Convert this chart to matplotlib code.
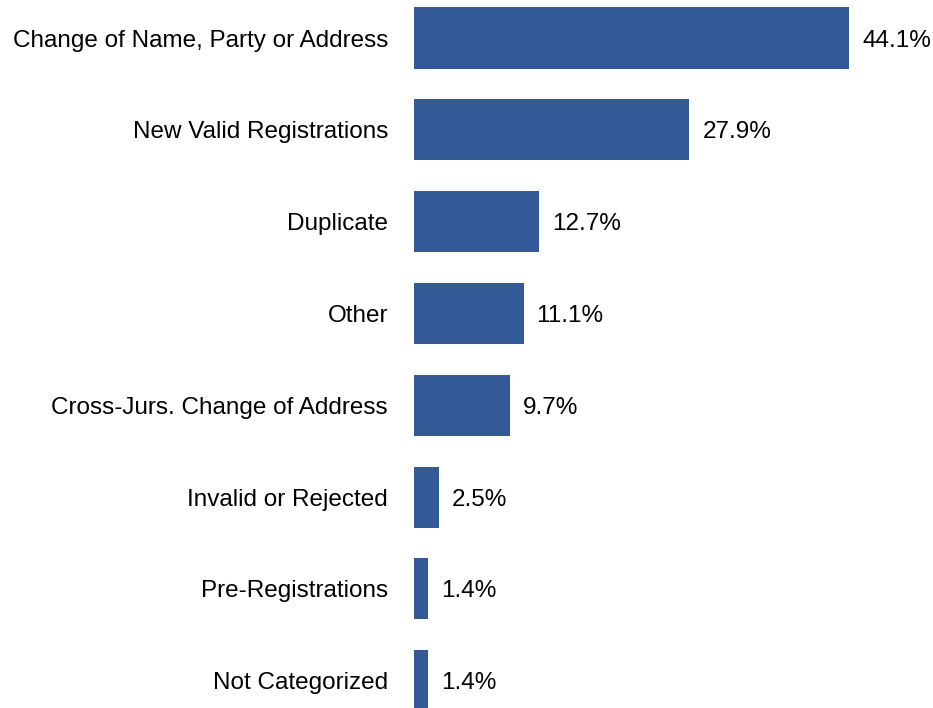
import matplotlib.pyplot as plt

categories = ["Change of Name, Party or Address", "New Valid Registrations", "Duplicate",
              "Other", "Cross-Jurs. Change of Address", "Invalid or Rejected",
              "Pre-Registrations", "Not Categorized"]
values = [44.1, 27.9, 12.7, 11.1, 9.7, 2.5, 1.4, 1.4]

plt.rcParams['font.family'] = ['Liberation Sans', 'DejaVu Sans']

fig = plt.figure(figsize=(9.33, 7.08), dpi=100)
ax = fig.add_axes([414 / 933, 0, 519 / 933, 1])

ypos = range(len(categories))
ax.barh(ypos, values, height=0.665, color='#335a97')
for y, v in zip(ypos, values):
    ax.annotate(f"{v:.1f}%", (v, y), xytext=(9.4, 0), textcoords='offset points',
                va='center_baseline', ha='left', fontsize=17.5)

ax.set_yticks(list(ypos))
ax.set_yticklabels(categories, fontsize=17.5, va='center_baseline')
ax.tick_params(axis='y', length=0, pad=18.7)
ax.set_xticks([])
ax.set_xlim(0, 52.6)
ax.set_ylim(7.298, -0.414)
for s in ax.spines.values():
    s.set_visible(False)

fig.savefig('out.png', dpi=100)
